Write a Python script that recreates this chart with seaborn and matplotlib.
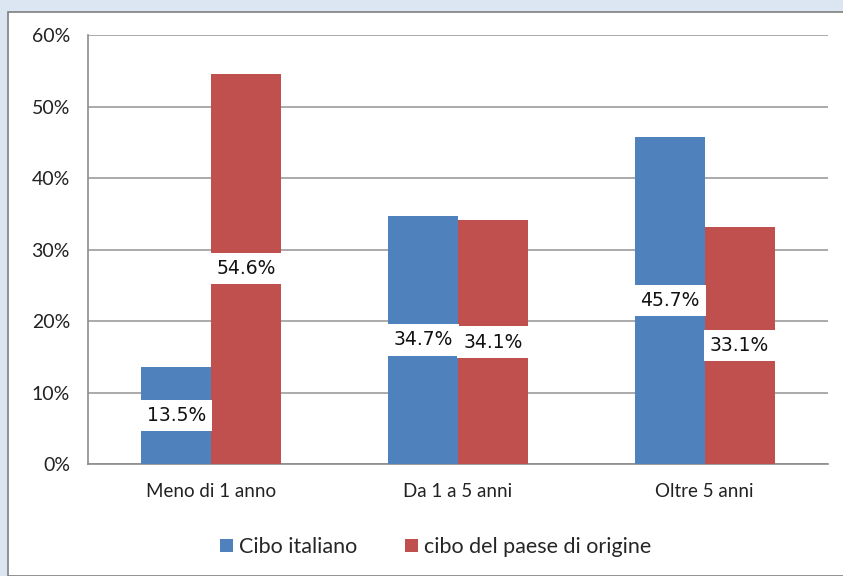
import pandas as pd
import matplotlib.pyplot as plt
import seaborn as sns
from matplotlib.patches import Rectangle
from matplotlib.ticker import PercentFormatter

# Data
categories = ["Meno di 1 anno", "Da 1 a 5 anni", "Oltre 5 anni"]
series = ["Cibo italiano", "cibo del paese di origine"]
cibo_italiano = [13.5, 34.7, 45.7]
cibo_origine = [54.6, 34.1, 33.1]
colors = ["#4F81BD", "#C0504D"]

df = pd.DataFrame({
    "Periodo": categories * 2,
    "Serie": [series[0]] * 3 + [series[1]] * 3,
    "Valore": cibo_italiano + cibo_origine,
})

sns.set_style("white")
plt.rcParams["font.family"] = ["Lato", "DejaVu Sans"]

fig = plt.figure(figsize=(8.43, 5.76), dpi=100, facecolor="#DCE6F2")
# white chart area with border, behind the axes
fig.patches.append(Rectangle((8 / 843, 0), 1, 1 - 12 / 576, transform=fig.transFigure,
                             facecolor="white", edgecolor="#7F7F7F", linewidth=1.2, zorder=-5))

ax = fig.add_axes([88 / 843, 1 - 464 / 576, 740 / 843, 429 / 576])
ax.set_facecolor("none")

sns.barplot(data=df, x="Periodo", y="Valore", hue="Serie", hue_order=series,
            palette=colors, width=0.567, saturation=1, linewidth=0, ax=ax, zorder=3)

for container in ax.containers:
    ax.bar_label(container, labels=[f"{v:.1f}%" for v in container.datavalues],
                 label_type="center", fontsize=13.5, family="DejaVu Sans", color="#111111",
                 bbox=dict(facecolor="white", edgecolor="none", pad=4.5), zorder=4)

ax.set_ylim(0, 60)
ax.set_xlim(-0.5, 2.5)
ax.set_yticks(range(0, 61, 10))
ax.yaxis.set_major_formatter(PercentFormatter(decimals=0))
ax.set_xticks([0, 1, 2])
ax.set_xticklabels(categories)
ax.set_xticks([-0.5, 0.5, 1.5, 2.5], minor=True)
ax.tick_params(axis="x", which="major", length=0, pad=14, labelsize=13.5, colors="#222222")
ax.tick_params(axis="x", which="minor", length=6, color="#8C8C8C", direction="out")
ax.tick_params(axis="y", length=7, color="#8C8C8C", direction="out", labelsize=14,
               labelcolor="#222222", pad=6)
ax.grid(axis="y", color="#9C9C9C", linewidth=1.2, zorder=0)
ax.set_axisbelow(True)
for side in ["top", "right"]:
    ax.spines[side].set_visible(False)
for side in ["left", "bottom"]:
    ax.spines[side].set_color("#8C8C8C")
    ax.spines[side].set_linewidth(1.2)
ax.set_xlabel("")
ax.set_ylabel("")

handles, labels = ax.get_legend_handles_labels()
ax.legend(handles, labels, loc="upper center", bbox_to_anchor=(0.47, -0.125), ncol=2,
          frameon=False, fontsize=15.5, handlelength=0.6, handleheight=0.6,
          handletextpad=0.3, columnspacing=2.2)

fig.savefig("out.png", dpi=100, facecolor=fig.get_facecolor())
